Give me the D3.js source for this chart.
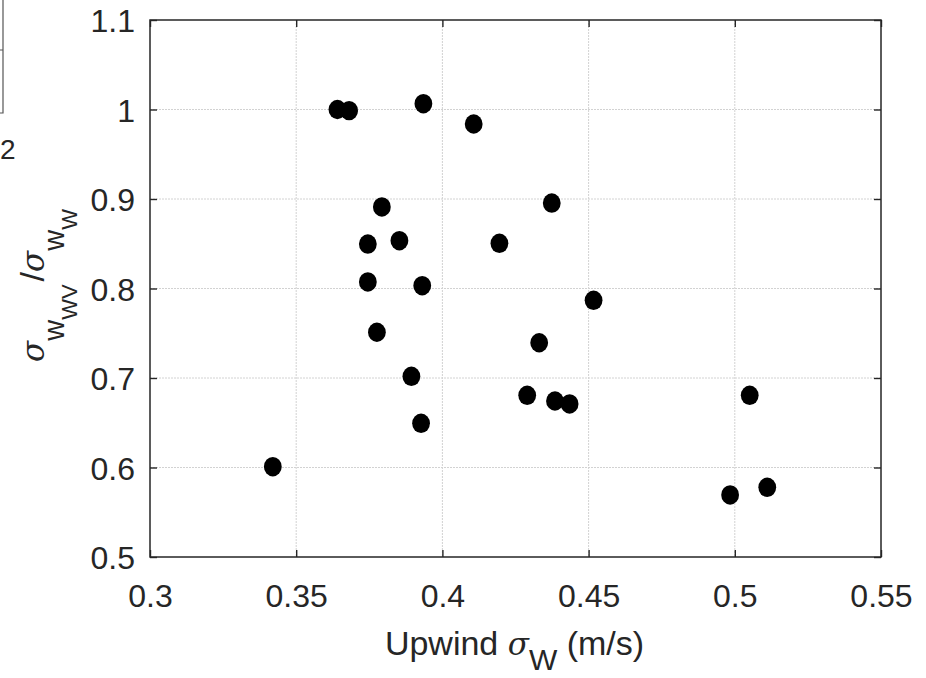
<!DOCTYPE html>
<html>
<head>
<meta charset="utf-8">
<script src="https://cdn.jsdelivr.net/npm/d3@7"></script>
<style>
  html, body { margin: 0; padding: 0; background: #fff; }
  svg { display: block; font-family: "Liberation Sans", Arial, Helvetica, sans-serif; }
</style>
</head>
<body>
<svg id="chart" width="926" height="678"></svg>
<script>
// ---- data ----
const upwindSigmaW = [0.3641, 0.3681, 0.3935, 0.4107, 0.3793, 0.3745, 0.3853, 0.4195,
                      0.3745, 0.3931, 0.3776, 0.3894, 0.3927, 0.3420, 0.4374, 0.4517,
                      0.4331, 0.4290, 0.4385, 0.4435, 0.5051, 0.4984, 0.5111];
const sigmaRatio   = [1.0000, 0.9987, 1.0065, 0.9838, 0.8911, 0.8497, 0.8534, 0.8505,
                      0.8073, 0.8031, 0.7511, 0.7019, 0.6494, 0.6009, 0.8955, 0.7868,
                      0.7394, 0.6807, 0.6743, 0.6710, 0.6807, 0.5693, 0.5779];
const xTicks = [0.3, 0.35, 0.4, 0.45, 0.5, 0.55];
const yTicks = [0.5, 0.6, 0.7, 0.8, 0.9, 1.0, 1.1];
const xTickLabels = ["0.3", "0.35", "0.4", "0.45", "0.5", "0.55"];
const yTickLabels = ["0.5", "0.6", "0.7", "0.8", "0.9", "1", "1.1"];

const points = upwindSigmaW.map((x, i) => ({ x, y: sigmaRatio[i] }));

const svg = d3.select("#chart");
const ink = "#262626";
const L = 150, R = 881, T = 20, B = 557;

const x = d3.scaleLinear().domain([0.3, 0.55]).range([L, R]);
const y = d3.scaleLinear().domain([0.5, 1.1]).range([B, T]);

// neighbouring panel fragment at the far left edge
svg.append("path").attr("d", "M3,0 V113 H0 M3,50 H0")
  .attr("fill", "none").attr("stroke", "#555").attr("stroke-width", 1.2);
svg.append("text").attr("x", 0).attr("y", 159).attr("text-anchor", "start")
  .attr("font-size", 28).attr("fill", ink).text("2");

// grid
const grid = svg.append("g").attr("stroke", "#d2d2d2").attr("stroke-width", 1)
  .attr("stroke-dasharray", "2,1");
grid.selectAll("line.vx").data(xTicks.slice(1, -1)).join("line")
  .attr("x1", d => x(d)).attr("x2", d => x(d)).attr("y1", T).attr("y2", B);
grid.selectAll("line.hy").data(yTicks.slice(1, -1)).join("line")
  .attr("y1", d => y(d)).attr("y2", d => y(d)).attr("x1", L).attr("x2", R);

// points
svg.append("g").selectAll("ellipse").data(points).join("ellipse")
  .attr("cx", d => x(d.x)).attr("cy", d => y(d.y))
  .attr("rx", 8.9).attr("ry", 9.7).attr("fill", "#000");

// axes
const fmtX = (d, i) => xTickLabels[i];
const fmtY = (d, i) => yTickLabels[i];
const tick = 7;

const gx = svg.append("g").attr("transform", `translate(0,${B})`)
  .call(d3.axisBottom(x).tickValues(xTicks).tickFormat(fmtX).tickSizeInner(-tick).tickSizeOuter(0).tickPadding(27));
const gxt = svg.append("g").attr("transform", `translate(0,${T})`)
  .call(d3.axisTop(x).tickValues(xTicks).tickFormat("").tickSizeInner(-tick).tickSizeOuter(0));
const gy = svg.append("g").attr("transform", `translate(${L},0)`)
  .call(d3.axisLeft(y).tickValues(yTicks).tickFormat(fmtY).tickSizeInner(-tick).tickSizeOuter(0).tickPadding(15));
const gyr = svg.append("g").attr("transform", `translate(${R},0)`)
  .call(d3.axisRight(y).tickValues(yTicks).tickFormat("").tickSizeInner(-tick).tickSizeOuter(0));

[gx, gxt, gy, gyr].forEach(g => {
  g.select(".domain").remove();
  g.selectAll("line").attr("stroke", ink).attr("stroke-width", 1.4);
  g.selectAll("text").attr("fill", ink).attr("font-size", 32)
    .attr("font-family", "'Liberation Sans', Arial, sans-serif");
});
gy.selectAll("text").attr("dy", "0.36em");

svg.append("rect").attr("x", L).attr("y", T).attr("width", R - L).attr("height", B - T)
  .attr("fill", "none").attr("stroke", ink).attr("stroke-width", 1.5);

// x label
const xl = svg.append("text").attr("x", (L + R) / 2 - 1).attr("y", 655)
  .attr("text-anchor", "middle").attr("font-size", 34).attr("fill", ink);
xl.append("tspan").text("Upwind ");
xl.append("tspan").attr("font-style", "italic").attr("font-family", "'DejaVu Serif', serif").attr("font-size", 31).text("σ");
xl.append("tspan").attr("dy", 15).attr("font-size", 30).text("W");
xl.append("tspan").attr("dy", -15).text(" (m/s)");

// y label
const yl = svg.append("text").attr("transform", `translate(44,${(T + B) / 2 - 3}) rotate(-90)`)
  .attr("text-anchor", "middle").attr("font-size", 34).attr("fill", ink);
yl.append("tspan").attr("font-style", "italic").attr("font-family", "'DejaVu Serif', serif").attr("font-size", 31).text("σ");
yl.append("tspan").attr("dy", 20).attr("font-size", 29).text("w");
yl.append("tspan").attr("dy", 13).attr("font-size", 22).text("WV");
yl.append("tspan").attr("dy", -33).attr("dx", 3).text("/");
yl.append("tspan").attr("font-style", "italic").attr("font-family", "'DejaVu Serif', serif").attr("font-size", 31).text("σ");
yl.append("tspan").attr("dy", 20).attr("font-size", 29).text("w");
yl.append("tspan").attr("dy", 13).attr("font-size", 22).text("W");
</script>
</body>
</html>
